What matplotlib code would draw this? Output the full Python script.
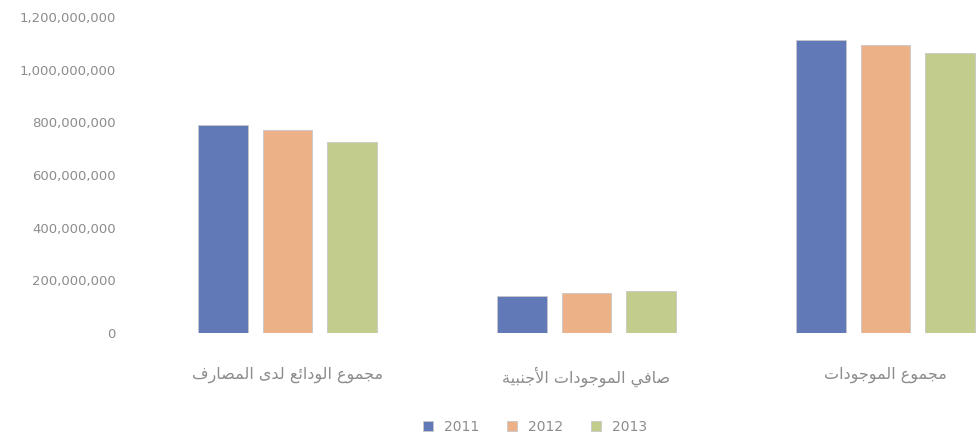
import numpy as np
import matplotlib.pyplot as plt
from matplotlib.ticker import FuncFormatter

categories = ['مجموع الودائع لدى المصارف', 'صافي الموجودات الأجنبية', 'مجموع الموجودات']
years = ['2011', '2012', '2013']
values_2011 = [790e6, 141e6, 1114e6]
values_2012 = [772e6, 152e6, 1095e6]
values_2013 = [726e6, 160e6, 1065e6]
colors = ['#6279b8', '#ecb186', '#c2cc8c']

# matplotlib does no Arabic shaping, so map letters to presentation forms
# (isolated, final, initial, medial); None initial -> letter does not join forward
FORMS = {
    'ا': ('\ufe8d', '\ufe8e', None, None),
    'أ': ('\ufe83', '\ufe84', None, None),
    'ب': ('\ufe8f', '\ufe90', '\ufe91', '\ufe92'),
    'ة': ('\ufe93', '\ufe94', None, None),
    'ت': ('\ufe95', '\ufe96', '\ufe97', '\ufe98'),
    'ج': ('\ufe9d', '\ufe9e', '\ufe9f', '\ufea0'),
    'د': ('\ufea9', '\ufeaa', None, None),
    'ر': ('\ufead', '\ufeae', None, None),
    'ش': ('\ufeb5', '\ufeb6', '\ufeb7', '\ufeb8'),
    'ص': ('\ufeb9', '\ufeba', '\ufebb', '\ufebc'),
    'ع': ('\ufec9', '\ufeca', '\ufecb', '\ufecc'),
    'ف': ('\ufed1', '\ufed2', '\ufed3', '\ufed4'),
    'ق': ('\ufed5', '\ufed6', '\ufed7', '\ufed8'),
    'ل': ('\ufedd', '\ufede', '\ufedf', '\ufee0'),
    'م': ('\ufee1', '\ufee2', '\ufee3', '\ufee4'),
    'ن': ('\ufee5', '\ufee6', '\ufee7', '\ufee8'),
    'ه': ('\ufee9', '\ufeea', '\ufeeb', '\ufeec'),
    'و': ('\ufeed', '\ufeee', None, None),
    'ى': ('\ufeef', '\ufef0', None, None),
    'ي': ('\ufef1', '\ufef2', '\ufef3', '\ufef4'),
    'ئ': ('\ufe89', '\ufe8a', '\ufe8b', '\ufe8c'),
}
LAM_ALEF = {'ا': ('\ufefb', '\ufefc'), 'أ': ('\ufef7', '\ufef8')}


def shape(text):
    # merge lam + alef into ligature tokens first
    tokens = []
    i = 0
    while i < len(text):
        if text[i] == 'ل' and i + 1 < len(text) and text[i + 1] in LAM_ALEF:
            tokens.append(('LA', text[i + 1]))
            i += 2
        else:
            tokens.append(('C', text[i]))
            i += 1

    def joins_forward(tok):
        if tok[0] == 'LA':
            return False
        f = FORMS.get(tok[1])
        return f is not None and f[2] is not None

    def joins_back(tok):
        return tok[0] == 'LA' or tok[1] in FORMS

    out = []
    for k, tok in enumerate(tokens):
        prev = tokens[k - 1] if k > 0 else None
        nxt = tokens[k + 1] if k + 1 < len(tokens) else None
        from_prev = prev is not None and joins_forward(prev) and joins_back(tok)
        to_next = nxt is not None and joins_forward(tok) and joins_back(nxt)
        if tok[0] == 'LA':
            out.append(LAM_ALEF[tok[1]][1 if from_prev else 0])
            continue
        f = FORMS.get(tok[1])
        if f is None:
            out.append(tok[1])
        elif from_prev and to_next:
            out.append(f[3])
        elif from_prev:
            out.append(f[1])
        elif to_next:
            out.append(f[2])
        else:
            out.append(f[0])
    return ''.join(out)[::-1]


fig = plt.figure(figsize=(9.77, 4.44), dpi=100)
ax = fig.add_axes([138 / 977, 1 - 333 / 444, 897 / 977, (333 - 17) / 444])

x = np.arange(len(categories))
pitch = 0.217
width = 0.167
series = [values_2011, values_2012, values_2013]
for i, vals in enumerate(series):
    ax.bar(x + (i - 1) * pitch, vals, width, color=colors[i], label=years[i],
           edgecolor='#c8c8c8', linewidth=0.6)

ax.set_xlim(-0.5, 2.5)
ax.set_ylim(0, 1200e6)
ax.set_yticks(np.arange(0, 1200e6 + 1, 200e6))
ax.yaxis.set_major_formatter(FuncFormatter(lambda v, p: f'{v:,.0f}'))
ax.set_xticks(x)
ax.set_xticklabels([shape(c) for c in categories], family='DejaVu Sans', fontsize=11.5)

for s in ax.spines.values():
    s.set_visible(False)
ax.tick_params(axis='both', length=0, colors='#8c8c8c')
ax.tick_params(axis='y', pad=16, labelsize=9.5)
ax.tick_params(axis='x', pad=24)

ax.legend(loc='upper center', bbox_to_anchor=(397 / 897, -0.235), ncol=3,
          frameon=False, fontsize=10, labelcolor='#8c8c8c',
          handlelength=0.7, handleheight=0.7, columnspacing=2.0, handletextpad=0.8)

fig.savefig('out.png', dpi=100)
